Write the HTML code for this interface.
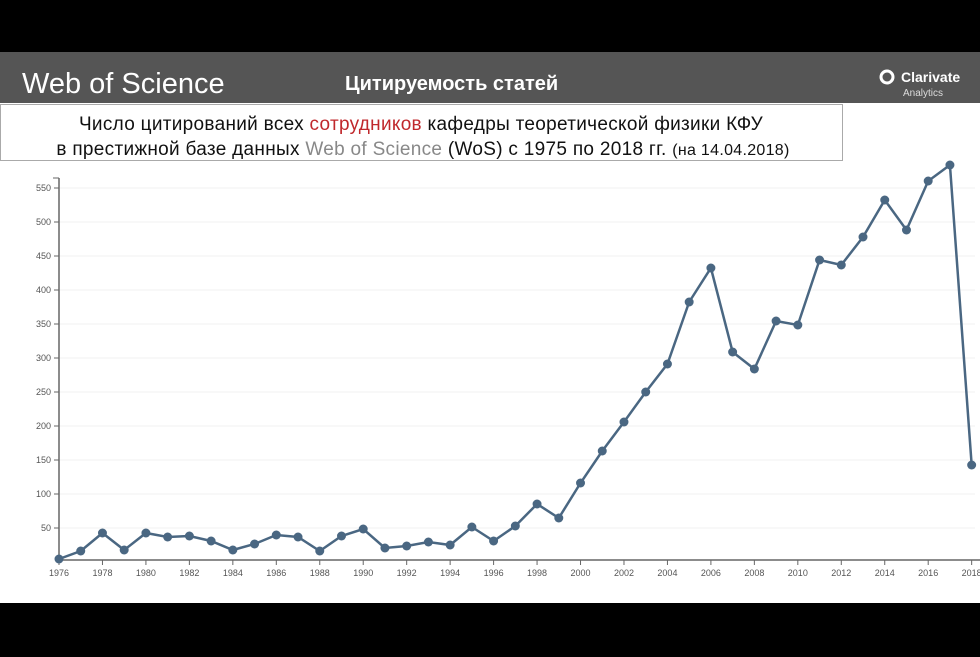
<!DOCTYPE html><html><head><meta charset="utf-8"><style>
body{margin:0;width:980px;height:657px;overflow:hidden;background:#000;font-family:"Liberation Sans",sans-serif}
</style></head><body>
<svg width="980" height="657" xmlns="http://www.w3.org/2000/svg" style="position:absolute;left:0;top:0">
<rect x="0" y="0" width="980" height="52" fill="#000"/>
<rect x="0" y="52" width="980" height="51" fill="#555"/>
<rect x="0" y="103" width="980" height="500" fill="#fff"/>
<rect x="0" y="603" width="980" height="54" fill="#000"/>
<text x="22" y="93" font-size="29" fill="#fff" font-family="Liberation Sans">Web of Science</text>
<text x="345" y="90" font-size="20" font-weight="bold" fill="#fff">Цитируемость статей</text>
<circle cx="887" cy="77" r="6" fill="none" stroke="#fff" stroke-width="3"/>
<text x="901" y="82" font-size="14" font-weight="bold" fill="#fff">Clarivate</text>
<text x="903" y="96" font-size="10" fill="#ddd">Analytics</text>
<rect x="0.5" y="104.5" width="842" height="56" fill="#fff" stroke="#aaa"/>
<text x="421" y="130" font-size="19" letter-spacing="0.3" text-anchor="middle" fill="#111">Число цитирований всех <tspan fill="#c0282c">сотрудников</tspan> кафедры теоретической физики КФУ</text>
<text x="423" y="155" font-size="19" letter-spacing="0.3" text-anchor="middle" fill="#111">в престижной базе данных <tspan fill="#888">Web of Science</tspan> (WoS)  с 1975 по 2018 гг.  <tspan font-size="16">(на 14.04.2018)</tspan></text>
</svg>
<script>
var s=document.querySelector('svg'),ns='http://www.w3.org/2000/svg';
function el(t,a,txt){var e=document.createElementNS(ns,t);for(var k in a)e.setAttribute(k,a[k]);if(txt)e.textContent=txt;s.appendChild(e);return e}
for(var v=50;v<=550;v+=50){var y=562-v*0.68;el('line',{x1:60,x2:975,y1:y,y2:y,stroke:'#f0f0f0'});el('line',{x1:54,x2:59,y1:y,y2:y,stroke:'#666'});el('text',{x:51,y:y+3,'font-size':9,fill:'#555','text-anchor':'end'},v)}
el('line',{x1:59,x2:59,y1:178,y2:560,stroke:'#666','stroke-width':1.5});
el('line',{x1:53,x2:59,y1:178,y2:178,stroke:'#666'});
el('line',{x1:59,x2:980,y1:560,y2:560,stroke:'#666','stroke-width':1.5});
var ys=[559,551,533,550,533,537,536,541,550,544,535,537,551,536,529,548,546,542,545,527,541,526,504,518,483,451,422,392,364,302,268,352,369,321,325,260,265,237,200,230,181,165,465];
var p=[];for(var i=0;i<ys.length;i++){var x=59+i*21.73;p.push(x+','+ys[i]);if(i%2==0){el('line',{x1:x,x2:x,y1:560,y2:565,stroke:'#666'});el('text',{x:x,y:576,'font-size':9,fill:'#555','text-anchor':'middle'},1976+i)}}
el('polyline',{points:p.join(' '),fill:'none',stroke:'#4a6782','stroke-width':2.5});
for(var i=0;i<ys.length;i++)el('circle',{cx:59+i*21.73,cy:ys[i],r:4.5,fill:'#4a6782'});
</script>
</body></html>
